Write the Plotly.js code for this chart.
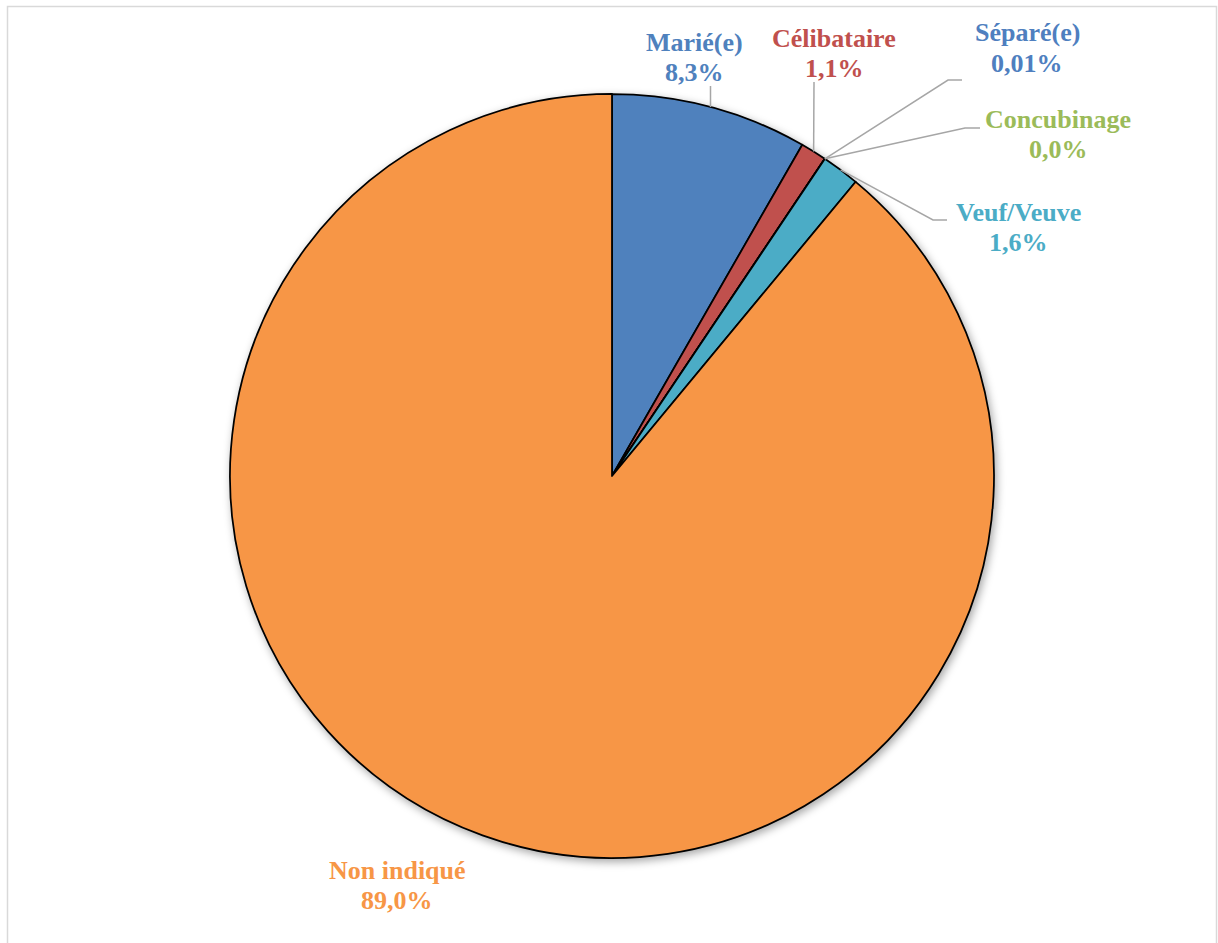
<!DOCTYPE html>
<html><head><meta charset="utf-8">
<script src="https://cdn.plot.ly/plotly-3.0.1.min.js"></script>
<style>
body{margin:0;background:#fff}
.pielayer{filter:drop-shadow(2px 3px 4px rgba(0,0,0,0.35));}
</style>
</head><body>
<div id="chart" style="width:1218px;height:943px"></div>
<script>
// ---- data ----
const categories = ['Marié(e)', 'Célibataire', 'Séparé(e)', 'Concubinage', 'Veuf/Veuve', 'Non indiqué'];
const values = [8.3, 1.1, 0.01, 0.0, 1.6, 89.0];
const valueLabels = ['8,3%', '1,1%', '0,01%', '0,0%', '1,6%', '89,0%'];
const colors = ['#4F81BD', '#C0504D', '#4F7FBF', '#9BBB59', '#4BACC6', '#F79646'];

// ---- layout constants (pixels) ----
const W = 1218, H = 943;
const cx = 612, cy = 476, R = 382;
const labelPos = [
  {x: 694, y: 43, leader: [[710.5, 86]]},
  {x: 834, y: 38, leader: [[814, 82]]},
  {x: 1027, y: 33, leader: [[948, 80], [962, 80]]},
  {x: 1058, y: 119, leader: [[965, 128], [980, 128]]},
  {x: 1018, y: 212, leader: [[933, 220], [947, 220]]},
  {x: 397, y: 870, leader: null}
];
const lineGap = 30;

const px = x => x / W;
const py = y => 1 - y / H;

const total = values.reduce((a, b) => a + b, 0);
const annotations = [];
const shapes = [];
let cum = 0;
categories.forEach((c, i) => {
  const mid = (cum + values[i] / 2) / total;
  cum += values[i];
  const ang = mid * 2 * Math.PI;
  const ax = cx + R * Math.sin(ang), ay = cy - R * Math.cos(ang);
  const lp = labelPos[i];
  const font = {family: '"Liberation Serif", "Times New Roman", serif', size: 26, color: colors[i], weight: 'bold'};
  annotations.push({xref: 'paper', yref: 'paper', x: px(lp.x), y: py(lp.y), text: '<b>' + c + '</b>',
    showarrow: false, xanchor: 'center', yanchor: 'middle', font: font});
  annotations.push({xref: 'paper', yref: 'paper', x: px(lp.x), y: py(lp.y + lineGap), text: '<b>' + valueLabels[i] + '</b>',
    showarrow: false, xanchor: 'center', yanchor: 'middle', font: font});
  if (lp.leader) {
    let d = 'M ' + px(ax) + ' ' + py(ay);
    lp.leader.forEach(p => { d += ' L ' + px(p[0]) + ' ' + py(p[1]); });
    shapes.push({type: 'path', xref: 'paper', yref: 'paper', path: d, line: {color: '#A6A6A6', width: 1.5}});
  }
});
// chart border
shapes.push({type: 'rect', xref: 'paper', yref: 'paper', x0: px(7.5), x1: px(1216.5), y0: py(960), y1: py(6.5),
  line: {color: '#D9D9D9', width: 1.5}, layer: 'below'});

const trace = {
  type: 'pie',
  labels: categories,
  values: values,
  sort: false,
  direction: 'clockwise',
  rotation: 0,
  textinfo: 'none',
  hoverinfo: 'none',
  showlegend: false,
  marker: {colors: colors, line: {color: '#000000', width: 1.75}},
  domain: {x: [px(cx - R), px(cx + R)], y: [py(cy + R), py(cy - R)]}
};

Plotly.newPlot('chart', [trace], {
  width: W, height: H,
  margin: {l: 0, r: 0, t: 0, b: 0},
  paper_bgcolor: '#ffffff',
  showlegend: false,
  annotations: annotations,
  shapes: shapes
}, {staticPlot: true});
</script>
</body></html>
